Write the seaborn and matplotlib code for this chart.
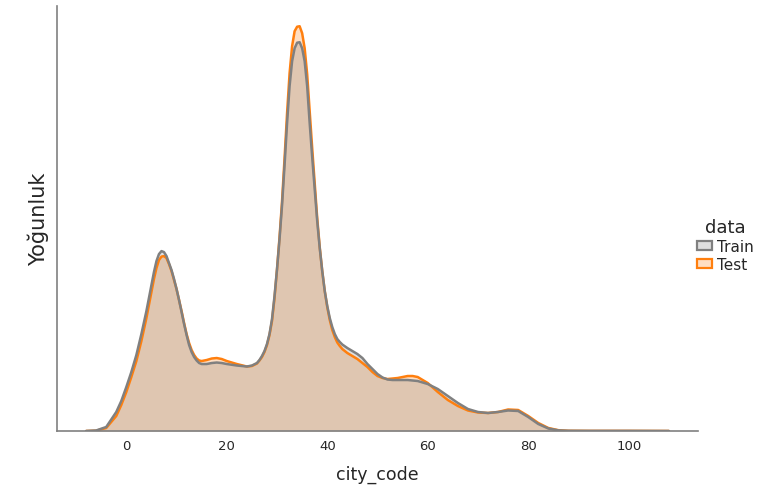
import matplotlib

matplotlib.use("Agg")
import matplotlib.pyplot as plt
import pandas as pd
import seaborn as sns
from matplotlib.patches import Patch

# Density curves of city_code (relative heights)
city_code = [
    -8, -6, -4, -2, -1, 0, 1, 2, 3, 4,
    4.5, 5, 5.5, 6, 6.5, 7, 7.5, 8, 8.5, 9,
    9.5, 10, 10.5, 11, 11.5, 12, 12.5, 13, 13.5, 14,
    14.5, 15, 16, 17, 18, 19, 20, 22, 24, 25,
    26, 26.5, 27, 27.5, 28, 28.5, 29, 29.5, 30, 30.5,
    31, 31.5, 32, 32.5, 33, 33.5, 34, 34.5, 35, 35.5,
    36, 36.5, 37, 37.5, 38, 38.5, 39, 39.5, 40, 40.5,
    41, 41.5, 42, 42.5, 43, 44, 45, 46, 47, 48,
    49, 50, 51, 52, 53, 54, 56, 57, 58, 60,
    62, 64, 66, 68, 70, 72, 74, 76, 78, 80,
    82, 84, 86, 88, 92, 96, 100, 104, 108,
]
train_density = [
    0, 0.5, 4, 19, 30, 44, 59, 76, 97, 120,
    133, 146, 159, 170, 177, 180, 179, 175, 168, 161,
    152, 142, 131, 119, 107, 96, 86, 79, 74, 70.5,
    68, 67, 67, 68, 68.5, 68, 67, 65.5, 64.5, 65.5,
    68, 71, 75, 80, 87, 97, 112, 135, 162, 192,
    226, 266, 308, 345, 370, 383, 388.5, 389, 383, 370,
    345, 308, 274, 242, 210, 183, 160, 140, 125, 113,
    104, 97, 92, 89, 86.5, 83, 80, 77, 73, 67,
    62, 57, 53.5, 51.5, 51, 51, 51, 50.5, 50, 47,
    42, 35, 28, 22, 19, 18, 19, 20.5, 20, 14,
    7, 2.5, 0.6, 0.2, 0.1, 0.1, 0.1, 0.05, 0,
]
test_density = [
    0, 0.3, 3, 15, 26, 39, 54, 70, 90, 113,
    126, 139, 152, 163, 171, 174.5, 175, 173, 167, 160,
    151, 142, 131, 120, 108, 97, 88, 81, 76, 72.5,
    70.5, 70, 71, 72.5, 73, 72, 70, 67, 64.5, 65,
    67.5, 70.5, 74, 79, 86, 96, 110, 133, 162, 194,
    230, 273, 318, 358, 385, 400, 404.5, 405, 398, 383,
    357, 320, 283, 248, 213, 184, 160, 140, 124, 111,
    101, 94, 88.5, 85, 82, 78, 75, 72, 68, 64,
    59, 55, 53, 52, 52.5, 53, 55, 55, 54, 48,
    39, 31, 25, 20.5, 18.5, 18, 19, 21.5, 21, 15,
    8, 3, 0.8, 0.2, 0.1, 0.1, 0.1, 0.05, 0,
]
groups = ["Train", "Test"]
colors = {"Train": "gray", "Test": "#ff7f0e"}

df = pd.concat([
    pd.DataFrame({"city_code": city_code, "density": train_density, "data": "Train"}),
    pd.DataFrame({"city_code": city_code, "density": test_density, "data": "Test"}),
], ignore_index=True)

sns.set_style("white")
plt.rcParams["font.family"] = ["DejaVu Sans"]

fig = plt.figure(figsize=(7.69, 4.89), dpi=100)
ax = fig.add_axes([0.0741, 0.1166, 0.8336, 0.8691])

# seaborn draws the first hue level on top, so go in reverse
for name in reversed(groups):
    sub = df[df["data"] == name]
    ax.fill_between(sub["city_code"], sub["density"], color=colors[name],
                    alpha=0.25, linewidth=0)
    sns.lineplot(data=sub, x="city_code", y="density", color=colors[name],
                 linewidth=1.8, ax=ax, legend=False)

span = max(city_code) - min(city_code)
ax.set_xlim(min(city_code) - 0.05 * span, max(city_code) + 0.05 * span)
ax.set_ylim(0, df["density"].max() * 1.05)
ax.set_yticks([])
ax.set_xticks([0, 20, 40, 60, 80, 100])
ax.tick_params(axis="x", labelsize=9.5, colors=".15", length=0, pad=6)
ax.set_xlabel("city_code", fontsize=12.5, color=".15", labelpad=9)
ax.set_ylabel("Yoğunluk", fontsize=15, color=".15", labelpad=6)
sns.despine(ax=ax)
for side in ["left", "bottom"]:
    ax.spines[side].set_color("gray")
    ax.spines[side].set_linewidth(1.2)

handles = [Patch(facecolor=matplotlib.colors.to_rgba(colors[g], 0.25),
                 edgecolor=colors[g], linewidth=1.6) for g in groups]
leg = fig.legend(handles, groups, title="data", loc="center left",
                 bbox_to_anchor=(0.889, 0.497), frameon=False, fontsize=11,
                 title_fontsize=13, handlelength=0.95, handleheight=0.5,
                 handletextpad=0.35, labelspacing=0.2)

fig.savefig("out.png", dpi=100)
